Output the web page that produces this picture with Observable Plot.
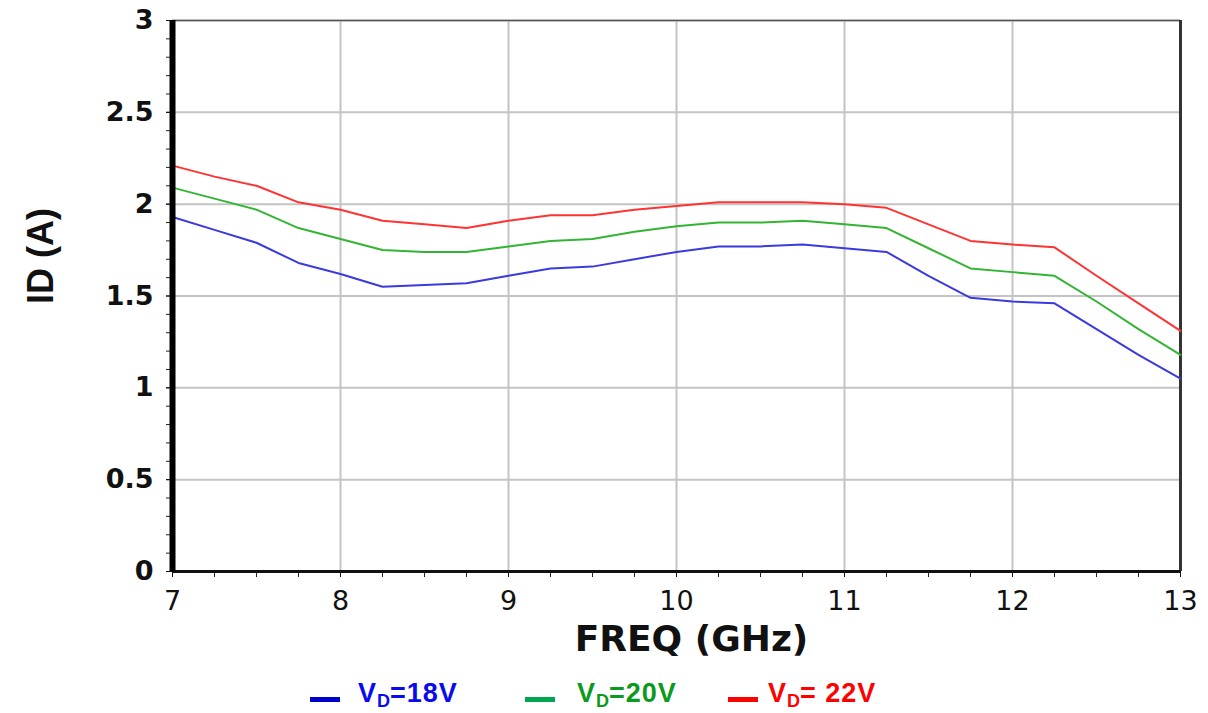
<!DOCTYPE html>
<html>
<head>
<meta charset="utf-8">
<script src="https://cdn.jsdelivr.net/npm/d3@7"></script>
<script src="https://cdn.jsdelivr.net/npm/@observablehq/plot@0.6"></script>
<style>
  html, body { margin: 0; padding: 0; background: #fff; }
  #wrap { position: relative; width: 1208px; height: 713px; font-family: "Liberation Sans", Arial, sans-serif; }
  #chart svg { display: block; }
  #chart g[aria-label="y-axis tick label"] text { font-weight: bold; font-family: "DejaVu Sans", sans-serif; }
  #chart g[aria-label="x-axis tick label"] text { font-family: "DejaVu Sans", sans-serif; }
  #legend { position: absolute; left: 0; top: 678px; width: 1208px; height: 35px; }
  .sw { position: absolute; top: 19px; width: 30px; height: 5px; }
  .lab { position: absolute; top: 0px; font-weight: bold; font-size: 27px; letter-spacing: 1px; line-height: 30px; white-space: nowrap; }
  .lab sub { font-size: 18px; vertical-align: -5px; line-height: 0; letter-spacing: 0; }
</style>
</head>
<body>
<div id="wrap">
  <div id="chart"></div>
  <div id="legend"></div>
</div>
<script>
const freq = [7, 7.25, 7.5, 7.75, 8, 8.25, 8.5, 8.75, 9, 9.25, 9.5, 9.75, 10, 10.25, 10.5, 10.75, 11, 11.25, 11.5, 11.75, 12, 12.25, 12.5, 12.75, 13];
const id18 = [1.93, 1.86, 1.79, 1.68, 1.62, 1.55, 1.56, 1.57, 1.61, 1.65, 1.66, 1.70, 1.74, 1.77, 1.77, 1.78, 1.76, 1.74, 1.61, 1.49, 1.47, 1.46, 1.32, 1.18, 1.05];
const id20 = [2.09, 2.03, 1.97, 1.87, 1.81, 1.75, 1.74, 1.74, 1.77, 1.80, 1.81, 1.85, 1.88, 1.90, 1.90, 1.91, 1.89, 1.87, 1.76, 1.65, 1.63, 1.61, 1.47, 1.32, 1.18];
const id22 = [2.21, 2.15, 2.10, 2.01, 1.97, 1.91, 1.89, 1.87, 1.91, 1.94, 1.94, 1.97, 1.99, 2.01, 2.01, 2.01, 2.00, 1.98, 1.89, 1.80, 1.78, 1.765, 1.61, 1.46, 1.31];
const seriesNames = ["VD=18V", "VD=20V", "VD=22V"];
const legendSuffix = ["=18V", "=20V", "= 22V"];
const lineColors = ["#3a3ade", "#33b533", "#ff3333"];
const legendTextColors = ["#0a0aee", "#0a9a20", "#ff0000"];
const legendSwatchColors = ["#0000cc", "#00a650", "#ff0000"];
const xTitle = "FREQ (GHz)";
const yTitle = "ID (A)";
const xTicks = [7, 8, 9, 10, 11, 12, 13];
const yTicks = [0, 0.5, 1, 1.5, 2, 2.5, 3];
const xMinor = d3.range(7, 13.001, 0.25);
const yMinor = d3.range(0, 3.001, 0.1);

const seriesVals = [id18, id20, id22];
const data = [];
seriesVals.forEach((vals, s) => vals.forEach((v, i) => data.push({freq: freq[i], id: v, series: seriesNames[s]})));

const chart = Plot.plot({
  width: 1208,
  height: 678,
  marginLeft: 172,
  marginRight: 28,
  marginTop: 20,
  marginBottom: 107,
  style: {fontFamily: "'Liberation Sans', Arial, sans-serif", fontSize: "24px", color: "#111"},
  x: {domain: [7, 13]},
  y: {domain: [0, 3]},
  color: {domain: seriesNames, range: lineColors},
  marks: [
    Plot.gridX(xTicks, {stroke: "#c4c4c4", strokeOpacity: 1, strokeWidth: 2}),
    Plot.gridY(yTicks, {stroke: "#c4c4c4", strokeOpacity: 1, strokeWidth: 2}),
    Plot.axisX(xMinor, {text: null, tickSize: 6, stroke: "#222", label: null}),
    Plot.axisY(yMinor, {text: null, tickSize: 6, stroke: "#222", label: null}),
    Plot.axisX(xTicks, {tickSize: 6, tickPadding: 13, fontSize: 27, tickFormat: d => String(d), label: null}),
    Plot.axisY(yTicks, {tickSize: 6, tickPadding: 13, fontSize: 27, tickFormat: d => String(d), label: null}),
    Plot.text([xTitle], {frameAnchor: "bottom", lineAnchor: "middle", textAnchor: "middle", dy: 68, dx: 15, fontSize: 36, fontWeight: "bold", fontFamily: "DejaVu Sans", fill: "#111"}),
    Plot.text([yTitle], {frameAnchor: "left", lineAnchor: "middle", textAnchor: "middle", rotate: -90, dx: -131, dy: -40, fontSize: 36, fontWeight: "bold", fontFamily: "Liberation Sans", fill: "#111"}),
    Plot.ruleY([3], {stroke: "#555", strokeWidth: 1.5}),
    Plot.ruleX([13], {stroke: "#333", strokeWidth: 3}),
    Plot.line(data, {x: "freq", y: "id", z: "series", stroke: "series", strokeWidth: 2}),
    Plot.ruleY([0], {stroke: "#111", strokeWidth: 3}),
    Plot.ruleX([7], {stroke: "#000", strokeWidth: 6})
  ]
});
document.getElementById("chart").appendChild(chart);

const legend = document.getElementById("legend");
const swatchLefts = [310, 525, 728];
const textLefts = [358, 577, 768];
seriesNames.forEach((n, i) => {
  const sw = document.createElement("div");
  sw.className = "sw";
  sw.style.left = swatchLefts[i] + "px";
  sw.style.background = legendSwatchColors[i];
  legend.appendChild(sw);
  const t = document.createElement("div");
  t.className = "lab";
  t.style.left = textLefts[i] + "px";
  t.style.color = legendTextColors[i];
  t.innerHTML = `V<sub>D</sub>${legendSuffix[i]}`;
  legend.appendChild(t);
});
</script>
</body>
</html>
